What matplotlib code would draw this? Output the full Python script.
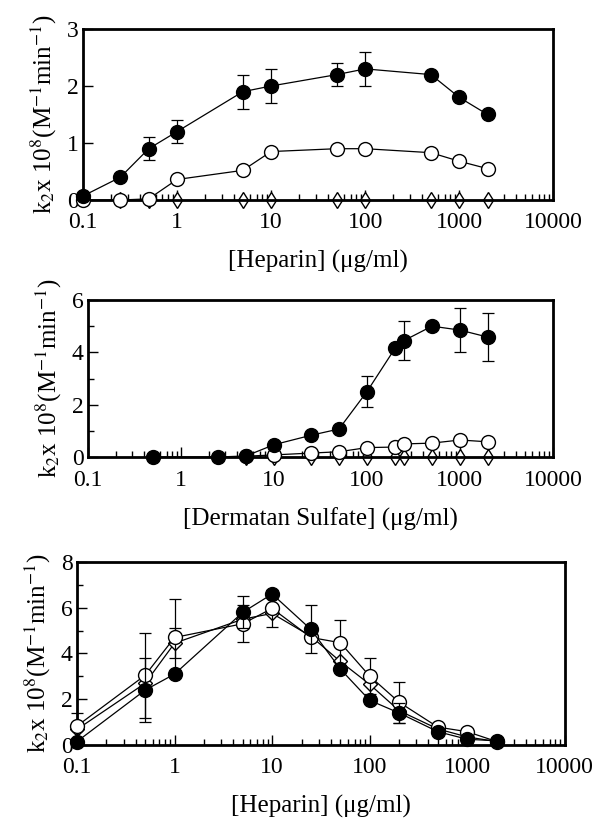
import matplotlib

matplotlib.use("Agg")
import matplotlib.pyplot as plt
import numpy as np
from matplotlib.ticker import FixedLocator, NullFormatter

# Panel (a): heparin
hep_x = [0.1, 0.25, 0.5, 1, 5, 10, 50, 100, 500, 1000, 2000]
hep_filled = [0.07, 0.40, 0.90, 1.20, 1.90, 2.00, 2.20, 2.30, 2.20, 1.80, 1.50]
hep_filled_err = [0, 0, 0.2, 0.2, 0.3, 0.3, 0.2, 0.3, 0, 0, 0]
hep_open_x = [0.1, 0.25, 0.5, 1, 5, 10, 50, 100, 500, 1000, 2000]
hep_open = [0, 0, 0.02, 0.36, 0.52, 0.85, 0.90, 0.90, 0.83, 0.68, 0.55]
hep_dia_x = [0.25, 0.5, 1, 5, 10, 50, 100, 500, 1000, 2000]
hep_dia = [0, 0, 0, 0, 0, 0, 0, 0, 0, 0]

# Panel (b): dermatan sulfate
ds_x = [0.5, 2.5, 5, 10, 25, 50, 100, 200, 250, 500, 1000, 2000]
ds_filled = [0, 0, 0.04, 0.47, 0.83, 1.07, 2.50, 4.15, 4.45, 5.00, 4.85, 4.58]
ds_filled_err = [0, 0, 0, 0, 0, 0, 0.6, 0, 0.75, 0, 0.85, 0.92]
ds_open_x = [5, 10, 25, 50, 100, 200, 250, 500, 1000, 2000]
ds_open = [0.03, 0.08, 0.15, 0.2, 0.36, 0.38, 0.5, 0.53, 0.65, 0.58]
ds_dia_x = [5, 10, 25, 50, 100, 200, 250, 500, 1000, 2000]
ds_dia = [0, 0, 0, 0, 0, 0, 0, 0, 0, 0]

# Panel (c): heparin, three conditions
c_x = [0.1, 0.5, 1, 5, 10, 25, 50, 100, 200, 500, 1000, 2000]
c_filled = [0.15, 2.40, 3.10, 5.80, 6.60, 5.05, 3.32, 1.95, 1.40, 0.58, 0.25, 0.18]
c_filled_err = [0, 1.4, 0, 0.7, 0, 1.05, 0, 0, 0.42, 0, 0, 0]
c_open = [0.83, 3.05, 4.70, 5.30, 5.97, 4.70, 4.47, 3.01, 1.87, 0.78, 0.58, 0.15]
c_open_err = [0.55, 1.85, 1.7, 0.8, 0.8, 0, 1.0, 0.8, 0.9, 0, 0, 0]
c_dia = [0.68, 2.70, 4.45, 5.50, 5.75, 4.75, 3.65, 2.65, 1.50, 0.70, 0.35, 0.15]
c_dia_err = [0, 0, 0.65, 0, 0, 0, 0, 0, 0, 0, 0, 0]

xticks = [0.1, 1, 10, 100, 1000, 10000]
xticklabels = ["0.1", "1", "10", "100", "1000", "10000"]
ylabel = "k$_2$x 10$^8$(M$^{-1}$min$^{-1}$)"

plt.rcParams.update({
    "font.family": ["Liberation Serif", "DejaVu Serif"],
    "mathtext.fontset": "stix",
    "font.size": 17,
})

fig = plt.figure(figsize=(6.03, 8.19), dpi=100)
ax1 = fig.add_axes([0.1376, 0.7558, 0.780, 0.2088])
ax2 = fig.add_axes([0.146, 0.442, 0.771, 0.1917])
ax3 = fig.add_axes([0.1277, 0.0904, 0.809, 0.2234])

ms = 10
lw = 0.9
eb = dict(ecolor="black", elinewidth=0.9, capsize=4, capthick=0.9)


def style(ax, ymax, ymajor, yminor, xlabel):
    ax.set_xscale("log")
    ax.set_xlim(0.1, 10000)
    ax.set_ylim(0, ymax)
    ax.set_xticks(xticks)
    ax.set_xticklabels(xticklabels)
    ax.xaxis.set_minor_formatter(NullFormatter())
    ax.set_yticks(ymajor)
    ax.yaxis.set_minor_locator(FixedLocator(yminor))
    ax.tick_params(which="both", direction="in", top=False, right=False,
                   labelsize=17, width=1.0)
    ax.tick_params(axis="x", which="major", length=7, pad=9)
    ax.tick_params(axis="y", which="major", length=7, pad=3)
    ax.tick_params(which="minor", length=4)
    for sp in ax.spines.values():
        sp.set_linewidth(2.0)
    ax.set_xlabel(xlabel, fontsize=18, labelpad=12)
    ax.set_ylabel(ylabel, fontsize=18, labelpad=6)


# (a)
ax1.plot(hep_dia_x, hep_dia, marker="d", color="black", mfc="white", ms=8, lw=lw, zorder=2)
ax1.plot(hep_open_x, hep_open, marker="o", color="black", mfc="white", ms=ms, lw=lw, zorder=3)
ax1.errorbar(hep_x, hep_filled, yerr=hep_filled_err, fmt="-o", color="black",
             ms=ms, lw=lw, zorder=4, **eb)
style(ax1, 3, [0, 1, 2, 3], [], "[Heparin] (μg/ml)")

# (b)
ax2.plot(ds_dia_x, ds_dia, marker="d", color="black", mfc="white", ms=8, lw=lw, zorder=2)
ax2.plot(ds_open_x, ds_open, marker="o", color="black", mfc="white", ms=ms, lw=lw, zorder=3)
ax2.errorbar(ds_x, ds_filled, yerr=ds_filled_err, fmt="-o", color="black",
             ms=ms, lw=lw, zorder=4, **eb)
style(ax2, 6, [0, 2, 4, 6], [1, 3, 5], "[Dermatan Sulfate] (μg/ml)")

# (c)
ax3.errorbar(c_x, c_dia, yerr=c_dia_err, fmt="-D", color="black", mfc="white",
             ms=7, lw=lw, zorder=2, **eb)
ax3.errorbar(c_x, c_open, yerr=c_open_err, fmt="-o", color="black", mfc="white",
             ms=ms, lw=lw, zorder=3, **eb)
ax3.errorbar(c_x, c_filled, yerr=c_filled_err, fmt="-o", color="black",
             ms=ms, lw=lw, zorder=4, **eb)
style(ax3, 8, [0, 2, 4, 6, 8], [1, 3, 5, 7], "[Heparin] (μg/ml)")

for ax in (ax1, ax2, ax3):
    for line in ax.lines:
        line.set_clip_on(False)

fig.savefig("out.png", dpi=100)
